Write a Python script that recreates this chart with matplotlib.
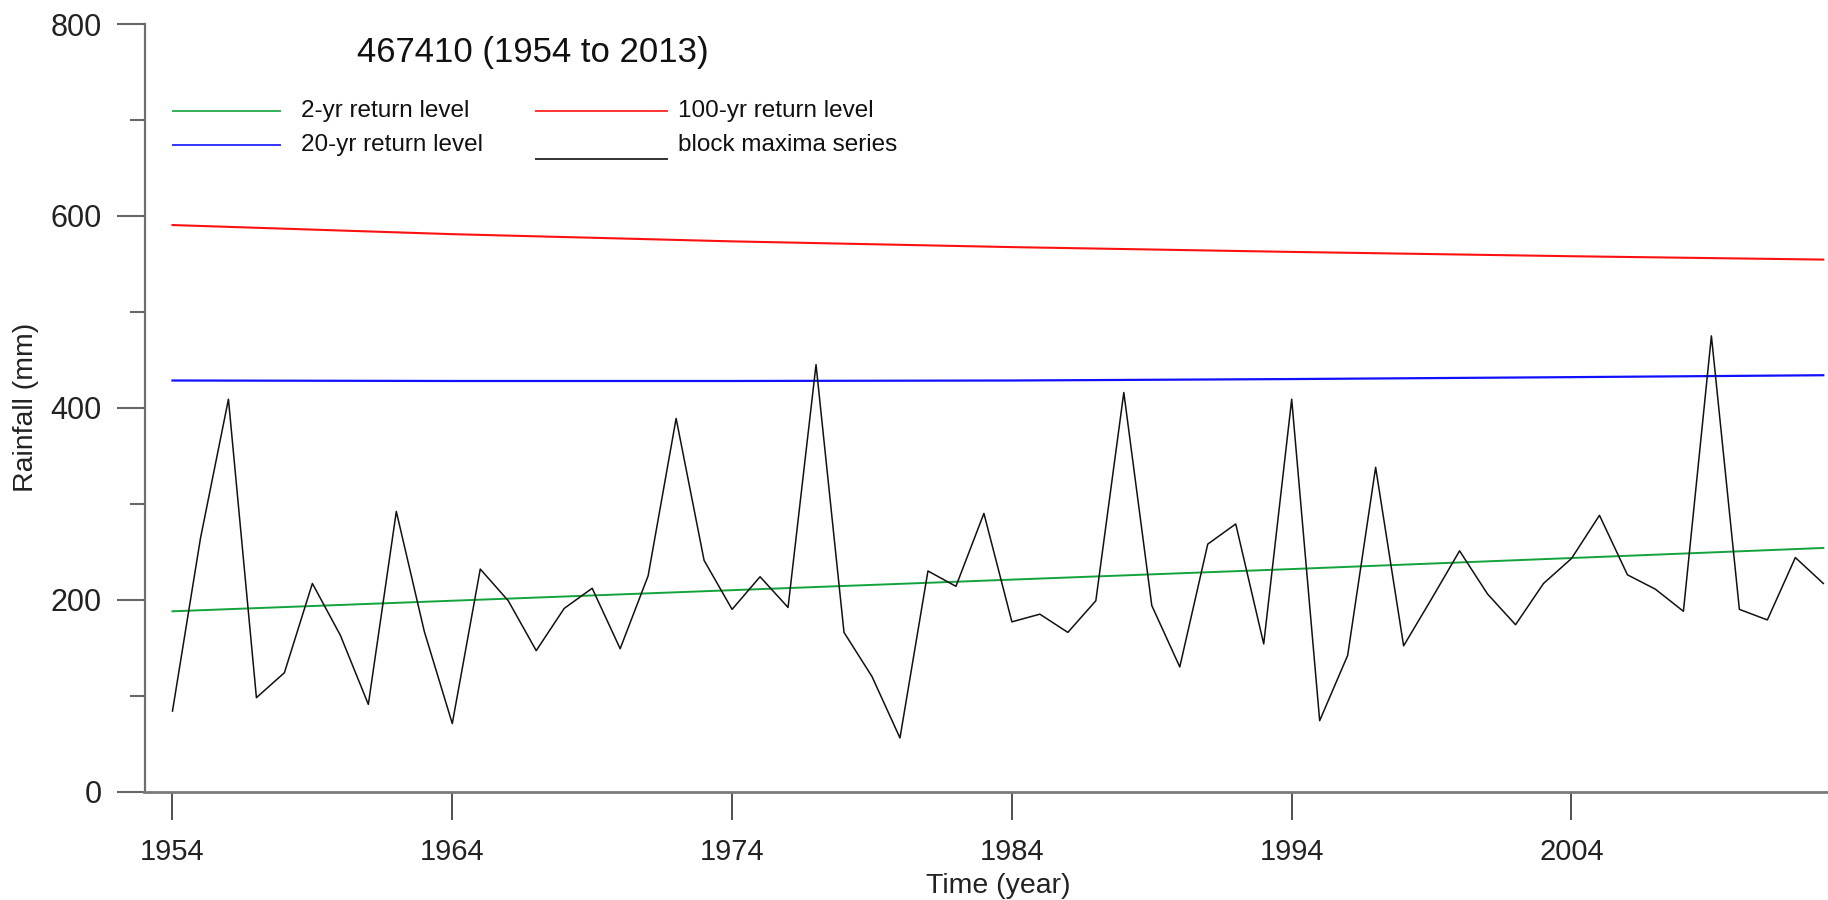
import matplotlib
matplotlib.use('Agg')
import matplotlib.pyplot as plt
from matplotlib.lines import Line2D

plt.rcParams['font.family'] = ['Liberation Sans', 'DejaVu Sans']

# ---------------- data ----------------
years = list(range(1954, 2014))
block_maxima = [84, 264, 409, 98, 124, 217, 163, 91, 292, 167,
                71, 232, 199, 147, 191, 212, 149, 225, 389, 241,
                190, 224, 192, 445, 166, 120, 56, 230, 214, 290,
                177, 185, 166, 199, 416, 194, 130, 258, 279, 154,
                409, 74, 142, 338, 152, 201, 251, 206, 174, 217,
                243, 288, 226, 211, 188, 475, 190, 179, 244, 217]

rl_years = [1954, 1964, 1974, 1984, 1994, 2004, 2013]
rl_2yr = [188, 199, 210, 221, 232, 243.5, 254]
rl_20yr = [428.5, 428, 428, 428.5, 430, 432, 434]
rl_100yr = [590.5, 581, 573.5, 567.5, 562.5, 558, 554.5]

x_ticks = [1954, 1964, 1974, 1984, 1994, 2004]
y_major = [0, 200, 400, 600, 800]
y_minor = [100, 300, 500, 700]

title = "467410 (1954 to 2013)"
legend_labels = ["2-yr return level", "20-yr return level",
                 "100-yr return level", "block maxima series"]

c_green = '#12A33C'
c_blue = '#1010FF'
c_red = '#FF1010'
c_black = '#111111'

# ---------------- figure ----------------
W, H = 1828, 900
fig = plt.figure(figsize=(W / 100, H / 100), dpi=100)
ax = fig.add_axes([144.5 / W, 108.3 / H, 1706.8 / W, 767.7 / H])
ax.set_xlim(1953, 2014)
ax.set_ylim(0, 800)

ax.plot(rl_years, rl_2yr, color=c_green, lw=1.4)
ax.plot(rl_years, rl_20yr, color=c_blue, lw=1.6)
ax.plot(rl_years, rl_100yr, color=c_red, lw=1.5)
ax.plot(years, block_maxima, color=c_black, lw=1.1)

for s in ['top', 'right']:
    ax.spines[s].set_visible(False)
ax.spines['left'].set_color('#6e6e6e')
ax.spines['left'].set_linewidth(1.6)
ax.spines['bottom'].set_color('#7a7a7a')
ax.spines['bottom'].set_linewidth(2.0)

ax.set_xticks(x_ticks)
ax.set_xticklabels([str(t) for t in x_ticks])
ax.set_yticks(y_major)
ax.set_yticklabels([str(t) for t in y_major])
ax.set_yticks(y_minor, minor=True)

ax.tick_params(axis='x', which='major', direction='out', length=20, width=1.2,
               color='#333333', labelsize=21, pad=13, labelcolor='#222222')
ax.tick_params(axis='y', which='major', direction='out', length=20, width=1.5,
               color='#666666', labelsize=22, pad=11, labelcolor='#222222')
ax.tick_params(axis='y', which='minor', direction='out', length=11, width=1.5,
               color='#666666')

ax.set_ylabel("Rainfall (mm)", fontsize=20.5, color='#222222', va='center')
ax.yaxis.set_label_coords(-0.0694, 0.5)
ax.set_xlabel("Time (year)", fontsize=20.5, color='#222222', va='center')
ax.xaxis.set_label_coords(0.5004, -0.1228)

# title
fig.text(533 / W, 1 - 52.5 / H, title, fontsize=25, color='#111111',
         ha='center', va='center')

# manual legend
def fx(px):
    return px / W

def fy(py):
    return 1 - py / H

leg_items = [
    (172.5, 280, 110.8, 110.8, 300.8, c_green, legend_labels[0]),
    (172.5, 280, 144.6, 144.6, 300.8, c_blue, legend_labels[1]),
    (536, 667, 110.8, 110.8, 678.5, c_red, legend_labels[2]),
    (536, 667, 158.5, 144.6, 678.5, c_black, legend_labels[3]),
]
for x0, x1, yl, yt, xt, col, lab in leg_items:
    fig.add_artist(Line2D([fx(x0), fx(x1)], [fy(yl), fy(yl)],
                          transform=fig.transFigure, color=col, lw=1.4, alpha=0.85))
    fig.text(fx(xt), fy(yt), lab, fontsize=17.5, color='#111111',
             ha='left', va='center')

fig.savefig('out.png', dpi=100)
